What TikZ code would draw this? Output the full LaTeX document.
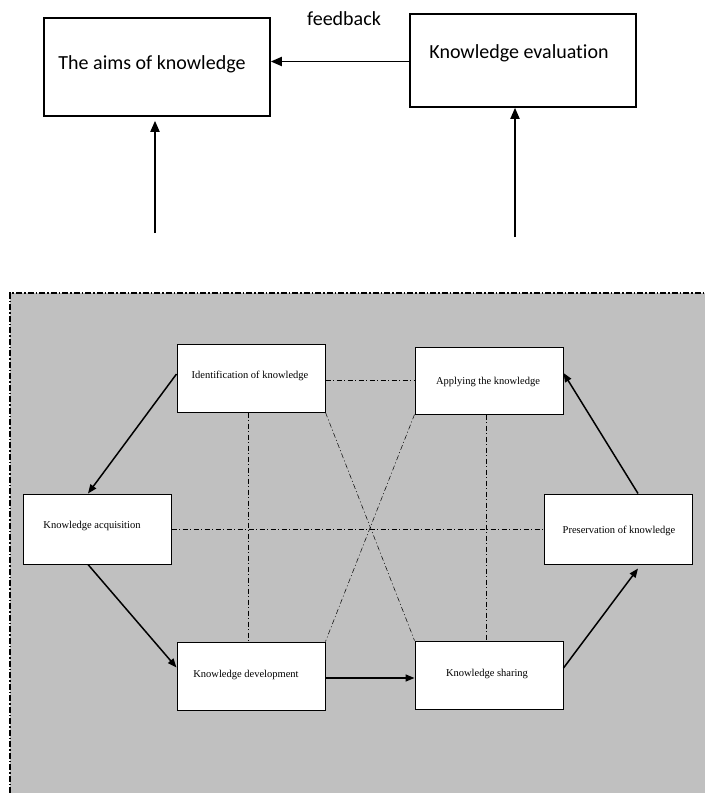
\documentclass[tikz,border=0pt]{standalone}
\usepackage{fontspec}
\setmainfont{Liberation Serif}
\newfontfamily\calib[Ligatures=NoCommon]{Carlito}
\usetikzlibrary{arrows.meta}
\definecolor{panelgray}{HTML}{C0C0C0}
\begin{document}
\begin{tikzpicture}[x=1pt,y=-1pt,
  bigbox/.style={draw, line width=1.6pt, fill=white, inner sep=0pt},
  smallbox/.style={draw, line width=1pt, fill=white, inner sep=0pt, minimum width=148pt},
  bigtxt/.style={font=\calib\fontsize{20}{24}\selectfont, inner sep=0pt},
  smalltxt/.style={font=\fontsize{10.5}{12}\selectfont, inner sep=0pt},
  arr/.style={line width=1.5pt, -{Triangle[length=9pt,width=7pt]}},
  bigarr/.style={line width=1.8pt, -{Triangle[length=11pt,width=9pt]}},
  dd/.style={line width=0.5pt, dash pattern=on 5pt off 2.5pt on 1pt off 2.5pt},
  border/.style={line width=1.5pt, dash pattern=on 6pt off 2pt on 1.5pt off 2pt}
]
\useasboundingbox (0,0) rectangle (705,793);
% gray panel
\fill[panelgray] (10,293) rectangle (705,793);
\coordinate (pTL) at (10,293);
\coordinate (pTR) at (705,293);
\coordinate (pBL) at (10,793);
\draw[border] (pBL) -- (pTL) -- (pTR);

% top boxes
\node[bigbox, minimum width=226pt, minimum height=98pt] (aims) at (157,67) {};
\node[bigbox, minimum width=226pt, minimum height=93pt] (eval) at (523,60.5) {};
\node[bigtxt] (aimsT) at (152,64) {The aims of knowledge};
\node[bigtxt] (evalT) at (519,53) {Knowledge evaluation};
\node[bigtxt] (fb) at (344,19) {feedback};

% inner boxes
\node[smallbox, minimum height=68pt] (ident) at (251,378) {};
\node[smallbox, minimum height=67pt] (apply) at (489,380.5) {};
\node[smallbox, minimum height=70pt] (acq) at (97,529) {};
\node[smallbox, minimum height=70pt] (pres) at (618,529) {};
\node[smallbox, minimum height=68pt] (dev) at (251,676) {};
\node[smallbox, minimum height=68pt] (share) at (489,675) {};

\node[smalltxt] (identT) at (250,376) {Identification of knowledge};
\node[smalltxt] (applyT) at (488,382) {Applying the knowledge};
\node[smalltxt] (acqT) at (92,526) {Knowledge acquisition};
\node[smalltxt] (presT) at (619,531) {Preservation of knowledge};
\node[smalltxt] (devT) at (246,675) {Knowledge development};
\node[smalltxt] (shareT) at (487,674) {Knowledge sharing};

% dash-dot relations
\draw[dd] (apply.west -| ident.east) -- (apply.west);
\draw[dd] (acq.east) -- (pres.west);
\draw[dd] ([xshift=-3pt]ident.south) -- ([xshift=-3pt]ident.south |- dev.north);
\draw[dd] ([xshift=-3pt]apply.south) -- ([xshift=-3pt]apply.south |- share.north);
\draw[dd] (ident.south east) -- (share.north west);
\draw[dd] (apply.south west) -- (dev.north east);

% cycle arrows
\draw[arr] ([yshift=4pt]ident.west) -- ([xshift=-9pt]acq.north);
\draw[arr] ([xshift=-9pt]acq.south) -- ([yshift=8.5pt]dev.west);
\draw[arr] ([yshift=-2pt]dev.east) -- ([yshift=-2pt]dev.east -| share.west);
\draw[arr] ([yshift=7pt]share.east) -- ([xshift=20pt,yshift=-4pt]pres.south);
\draw[arr] ([xshift=20pt]pres.north) -- ([yshift=7.5pt]apply.east);

% top arrows
\coordinate (la) at (155,233);
\coordinate (ra) at (515,237);
\draw[bigarr] (la) -- ([yshift=-4pt]la |- aims.south);
\draw[bigarr] (ra) -- (ra |- eval.south);
\draw[bigarr] ([yshift=-1pt]eval.west) -- ([yshift=-1pt]eval.west -| aims.east);
\end{tikzpicture}
\end{document}
